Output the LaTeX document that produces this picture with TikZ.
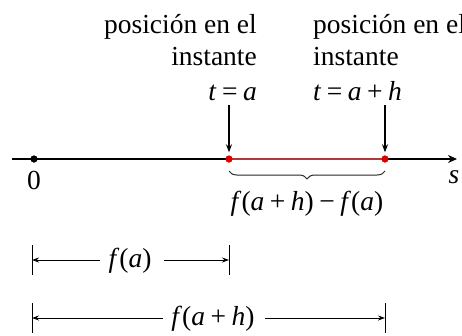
\documentclass[tikz,border=0pt]{standalone}
\usepackage{fontspec}
\setmainfont{Liberation Serif}
\usetikzlibrary{arrows.meta,decorations.pathreplacing}
\definecolor{segred}{HTML}{B03A3A}
\definecolor{dotred}{HTML}{E00000}
\newcommand\msp{\hspace{0.2em}}
\tikzset{
  txt/.style={inner sep=0pt, font=\fontsize{27.5}{33}\selectfont},
  dotnode/.style={circle, inner sep=0pt, minimum size=7pt},
  downarrow/.style={line width=1.2pt, -{Stealth[length=8pt,width=6pt]}},
  dimarrow/.style={line width=0.9pt, -{Stealth[length=7pt,width=5pt]}},
  dimbar/.style={line width=1pt},
}
\begin{document}
\begin{tikzpicture}[x=1pt,y=-1pt]
\useasboundingbox (0,0) rectangle (462,335);
% texts above
\node[txt, anchor=base east] (l1) at (257,33) {posición en el};
\node[txt, anchor=base east] (l2) at (257,65) {instante};
\node[txt, anchor=base east] (l3) at (257,100) {\textit{t}\msp=\msp\textit{a}};
\node[txt, anchor=base west] (r1) at (313,33) {posición en el};
\node[txt, anchor=base west] (r2) at (313,65) {instante};
\node[txt, anchor=base west] (r3) at (313,100) {\textit{t}\msp=\msp\textit{a}\msp+\msp\textit{h}};
% axis
\coordinate (start) at (12,159);
\coordinate (end) at (457,159);
\node[dotnode, fill=black] (p0) at (34,159) {};
\node[dotnode, fill=dotred] (pa) at (229,159) {};
\node[dotnode, fill=dotred] (pb) at (385,159) {};
\draw[line width=1.8pt] (start) -- (pa.center);
\draw[line width=1.8pt, -{Stealth[length=9pt,width=8pt]}] (pb.center) -- (end);
\draw[line width=1.8pt, segred] (pa.center) -- (pb.center);
\node[dotnode, fill=black] at (p0) {};
\node[dotnode, fill=dotred] at (pa) {};
\node[dotnode, fill=dotred] at (pb) {};
% down arrows
\coordinate (ta) at (229,105);
\coordinate (tb) at (385,105);
\draw[downarrow, shorten >=3pt] (ta) -- (pa.north);
\draw[downarrow, shorten >=3pt] (tb) -- (pb.north);
% labels on axis
\node[txt, anchor=base] (zero) at (34,189) {0};
\node[txt, anchor=base] (s) at (454,183) {\textit{s}};
% brace
\draw[line width=1pt, black!85, decorate, decoration={brace, mirror, amplitude=8pt}] (229,171) -- (385,171);
\node[txt, anchor=base] (diff) at (307,210) {\textit{f}(\textit{a}\msp+\msp\textit{h})\msp−\msp\textit{f}(\textit{a})};
% dimension f(a)
\coordinate (b0t) at (32,245); \coordinate (b0b) at (32,275);
\coordinate (b1t) at (229,245); \coordinate (b1b) at (229,275);
\draw[dimbar] (b0t) -- (b0b);
\draw[dimbar] (b1t) -- (b1b);
\coordinate (d0) at (32,260); \coordinate (d1) at (229,260);
\node[txt, anchor=base] (fa) at (130,267) {\textit{f}(\textit{a})};
\draw[dimarrow] ([xshift=-8pt]fa.west |- d0) -- (d0);
\draw[dimarrow] ([xshift=12pt]fa.east |- d1) -- (d1);
% dimension f(a+h)
\coordinate (c0t) at (32,303); \coordinate (c0b) at (32,333);
\coordinate (c1t) at (385,303); \coordinate (c1b) at (385,333);
\draw[dimbar] (c0t) -- (c0b);
\draw[dimbar] (c1t) -- (c1b);
\coordinate (e0) at (32,318); \coordinate (e1) at (385,318);
\node[txt, anchor=base] (fah) at (213,325) {\textit{f}(\textit{a}\msp+\msp\textit{h})};
\draw[dimarrow] ([xshift=-8pt]fah.west |- e0) -- (e0);
\draw[dimarrow] ([xshift=10pt]fah.east |- e1) -- (e1);
\end{tikzpicture}
\end{document}
